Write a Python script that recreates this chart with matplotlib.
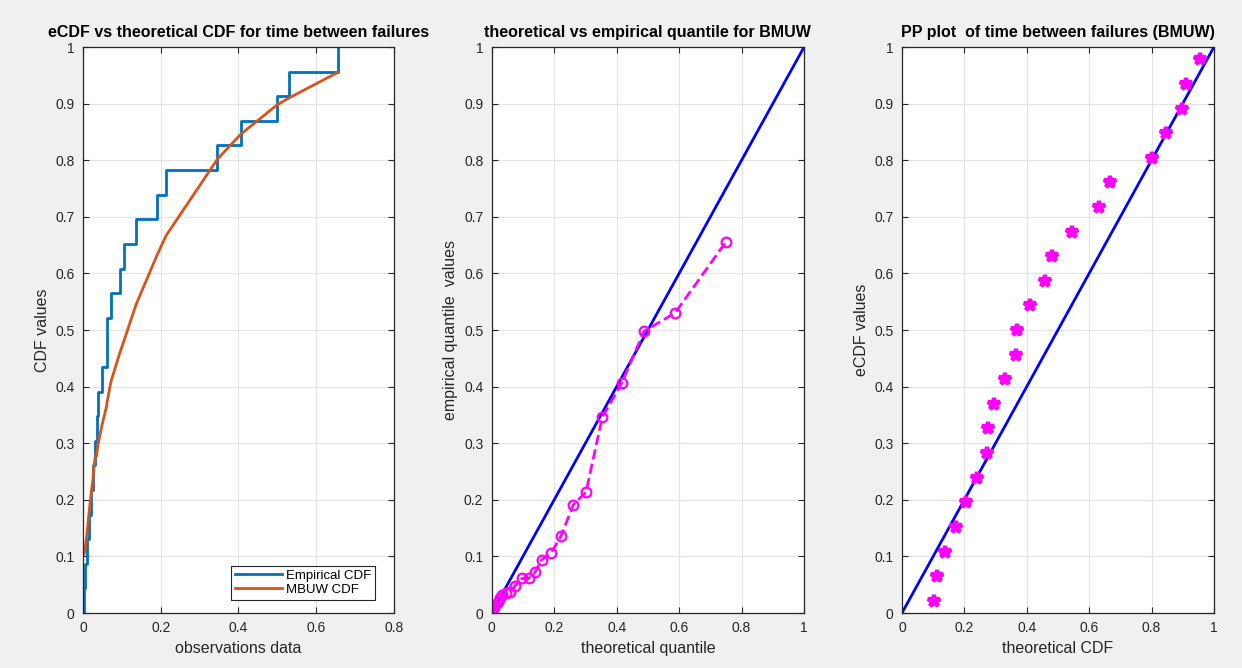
import numpy as np
import matplotlib
matplotlib.use('Agg')
import matplotlib.pyplot as plt

# sorted observations (time between failures), n = 23
obs_data = [0.003, 0.005, 0.010, 0.015, 0.020, 0.026, 0.031, 0.035, 0.038, 0.048,
            0.061, 0.061, 0.072, 0.094, 0.106, 0.136, 0.191, 0.214, 0.346, 0.406,
            0.498, 0.530, 0.655]
# MBUW CDF evaluated at the observations
theo_cdf = [0.104, 0.111, 0.138, 0.173, 0.205, 0.239, 0.274, 0.277, 0.295, 0.329,
            0.366, 0.369, 0.409, 0.458, 0.482, 0.544, 0.633, 0.667, 0.802, 0.846,
            0.897, 0.910, 0.955]
# theoretical quantiles at plotting positions
theo_quant = [0.001, 0.003, 0.006, 0.012, 0.019, 0.026, 0.034, 0.045, 0.058, 0.075,
              0.096, 0.118, 0.139, 0.160, 0.190, 0.222, 0.261, 0.302, 0.354, 0.416,
              0.488, 0.587, 0.749]
ecdf_vals = [(i - 0.5) / 23 for i in range(1, 24)]

plt.rcParams['font.family'] = ['Liberation Sans', 'DejaVu Sans']
plt.rcParams['axes.edgecolor'] = '#262626'

fig = plt.figure(figsize=(12.42, 6.68), dpi=100)
fig.patch.set_facecolor('#f0f0f0')

bottom, height = 0.0823, 0.8473
ax1 = fig.add_axes([0.0668, bottom, 0.2504, height])
ax2 = fig.add_axes([0.3959, bottom, 0.2515, height])
ax3 = fig.add_axes([0.7262, bottom, 0.2512, height])

def style(ax, xmax):
	ax.set_xlim(0, xmax)
	ax.set_ylim(0, 1)
	xt = np.arange(0, xmax + 0.01, 0.2)
	ax.set_xticks(xt)
	ax.set_yticks(np.arange(0, 1.01, 0.1))
	ax.set_xticklabels(['0' if v == 0 else ('1' if abs(v - 1) < 1e-9 else '%.1f' % v) for v in xt])
	ax.set_yticklabels(['0'] + ['%.1f' % v for v in np.arange(0.1, 0.95, 0.1)] + ['1'])
	ax.grid(True, color='#e3e3e3', linewidth=0.8)
	ax.set_axisbelow(True)
	ax.tick_params(direction='in', top=True, right=True, length=4, labelsize=10,
	               colors='#262626', pad=6)
	for s in ax.spines.values():
		s.set_linewidth(0.9)

tfont = dict(fontsize=11.5, fontweight='bold', pad=7)
lfont = dict(fontsize=11.5, color='#262626')

# panel 1: eCDF vs theoretical CDF
x_st = np.concatenate([[obs_data[0]], obs_data])
y_st = np.concatenate([[0], np.arange(1, 24) / 23.0])
ax1.step(x_st, y_st, where='post', color='#0072BD', linewidth=2, label='Empirical CDF')
ax1.plot(obs_data, theo_cdf, color='#D95319', linewidth=2, label='MBUW CDF')
style(ax1, 0.8)
ax1.set_title('eCDF vs theoretical CDF for time between failures', **tfont)
ax1.set_xlabel('observations data', **lfont)
ax1.set_ylabel('CDF values', **lfont)
leg = ax1.legend(loc='lower right', bbox_to_anchor=(0.96, 0.012), fontsize=9.5,
                 fancybox=False, framealpha=1, edgecolor='#262626', handlelength=3.6,
                 borderpad=0.3, labelspacing=0.12, handletextpad=0.25)
leg.get_frame().set_linewidth(0.8)

# panel 2: QQ plot
ax2.plot([0, 1], [0, 1], color='#0000ff', linewidth=2)
ax2.plot(theo_quant, obs_data, '--o', color='#ff00ff', linewidth=2, markersize=7,
         markerfacecolor='none', markeredgewidth=1.6)
style(ax2, 1.0)
ax2.set_title('theoretical vs empirical quantile for BMUW', **tfont)
ax2.set_xlabel('theoretical quantile', **lfont)
ax2.set_ylabel('empirical quantile  values', **lfont)

# panel 3: PP plot
ax3.plot([0, 1], [0, 1], color='#0000ff', linewidth=2)
ax3.plot(theo_cdf, ecdf_vals, '*', color='#ff00ff', markersize=9, markeredgewidth=3)
style(ax3, 1.0)
ax3.set_title('PP plot  of time between failures (BMUW)', **tfont)
ax3.set_xlabel('theoretical CDF', **lfont)
ax3.set_ylabel('eCDF values', **lfont)

fig.savefig('out.png', dpi=100, facecolor=fig.get_facecolor())
